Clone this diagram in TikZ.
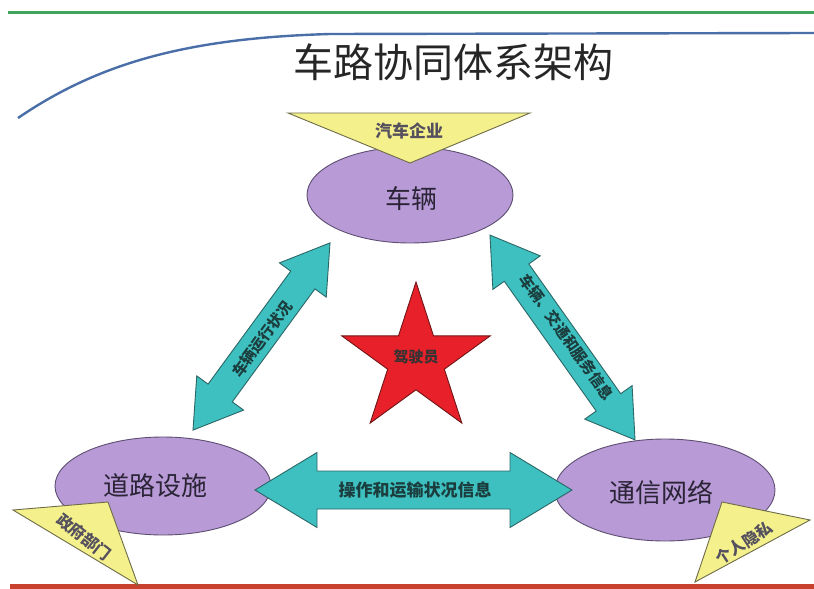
\documentclass[tikz,border=0pt]{standalone}
\usepackage{fontspec}
\newfontfamily\cjk{Noto Sans CJK SC}
\usetikzlibrary{shapes.geometric}
\definecolor{gline}{HTML}{3FA55A}
\definecolor{bline}{HTML}{4A6FA8}
\definecolor{rline}{HTML}{C8402E}
\definecolor{purp}{HTML}{B89AD6}
\definecolor{purpd}{HTML}{5E4E72}
\definecolor{yell}{HTML}{F4F08C}
\definecolor{yelld}{HTML}{6E6C48}
\definecolor{teal1}{HTML}{3EC0C0}
\definecolor{teald}{HTML}{2C6666}
\definecolor{starred}{HTML}{E8202A}
\definecolor{stard}{HTML}{701515}
\definecolor{txt}{HTML}{2A2436}
\tikzset{
  ell/.style={ellipse, draw=purpd, line width=0.9pt, fill=purp, inner sep=0pt},
  elltxt/.style={inner sep=0pt, font=\cjk\fontsize{26}{26}\selectfont, text=txt},
  tri/.style={draw=yelld, line width=0.9pt, fill=yell, line join=miter},
  tritxt/.style={inner sep=0pt, font=\cjk\bfseries\fontsize{16}{16}\selectfont, text=txt!80},
  barrow/.style={draw=teald, line width=0.9pt, fill=teal1},
  arrtxt/.style={inner sep=0pt, font=\cjk\bfseries\fontsize{15}{15}\selectfont, text=teald!60!black}
}
\newcommand\dblarr[4]{% L, half shaft, half head, head length
  \draw[barrow] ({-#1/2},0) -- ({-#1/2+#4},#3) -- ({-#1/2+#4},#2) -- ({#1/2-#4},#2)
   -- ({#1/2-#4},#3) -- ({#1/2},0) -- ({#1/2-#4},{-#3}) -- ({#1/2-#4},{-#2})
   -- ({-#1/2+#4},{-#2}) -- ({-#1/2+#4},{-#3}) -- cycle;}
\begin{document}
\begin{tikzpicture}[x=1pt,y=-1pt]
\useasboundingbox[fill=white] (0,0) rectangle (814,589);
% lines
\draw[gline, line width=3pt] (8,12) -- (814,12);
\draw[bline, line width=2.4pt] (18,118) .. controls (100,62) and (190,38) .. (330,34) -- (814,33);
\draw[rline, line width=5pt] (10,586) -- (814,586);
% title
\node[font=\cjk\fontsize{40}{40}\selectfont, text=black!85] (title) at (453,62) {车路协同体系架构};
% ellipses
\node[ell, minimum width=206pt, minimum height=96pt] (car) at (410,195) {};
\node[elltxt] (cart) at (411,199) {车辆};
\node[ell, minimum width=216pt, minimum height=98pt] (road) at (163,486) {};
\node[elltxt] (roadt) at (155,486) {道路设施};
\node[ell, minimum width=220pt, minimum height=102pt] (net) at (665,490) {};
\node[elltxt] (nett) at (661,492) {通信网络};
% triangles
\draw[tri] (288,113) -- (530,113) -- (410,163) -- cycle;
\node[tritxt, font=\cjk\bfseries\fontsize{17}{17}\selectfont] (t1) at (409,131) {汽车企业};
\draw[tri] (13,510) -- (108,502) -- (138,585) -- cycle;
\node[tritxt, rotate=-38] (t2) at (84,537) {政府部门};
\draw[tri] (722,502) -- (810,520) -- (695,582) -- cycle;
\node[tritxt, rotate=33] (t3) at (744,543) {个人隐私};
% arrows
\begin{scope}[shift={(261.5,336.5)}, rotate=53.8]
  \dblarr{232}{15}{29}{46}
\end{scope}
\node[arrtxt] (a1) at (262,339) {\rotatebox{53.8}{车辆运行状况}};
\begin{scope}[shift={(562.5,337.5)}, rotate=-54.7]
  \dblarr{251}{15}{29}{46}
\end{scope}
\node[arrtxt] (a2) at (567,337) {\rotatebox{-54.7}{车辆、交通和服务信息}};
\begin{scope}[shift={(413.5,490)}]
  \dblarr{317}{19}{37.5}{62}
\end{scope}
\node[arrtxt, font=\cjk\bfseries\fontsize{17}{17}\selectfont] (a3) at (415,490) {操作和运输状况信息};
% star
\node[star, star points=5, star point ratio=2.618, minimum size=156pt, inner sep=0pt,
  draw=stard, line width=0.9pt, fill=starred] (driver) at (416,360) {};
\node[font=\cjk\bfseries\fontsize{15}{15}\selectfont, text=black!80] (drvt) at (416,357) {驾驶员};
\end{tikzpicture}
\end{document}
